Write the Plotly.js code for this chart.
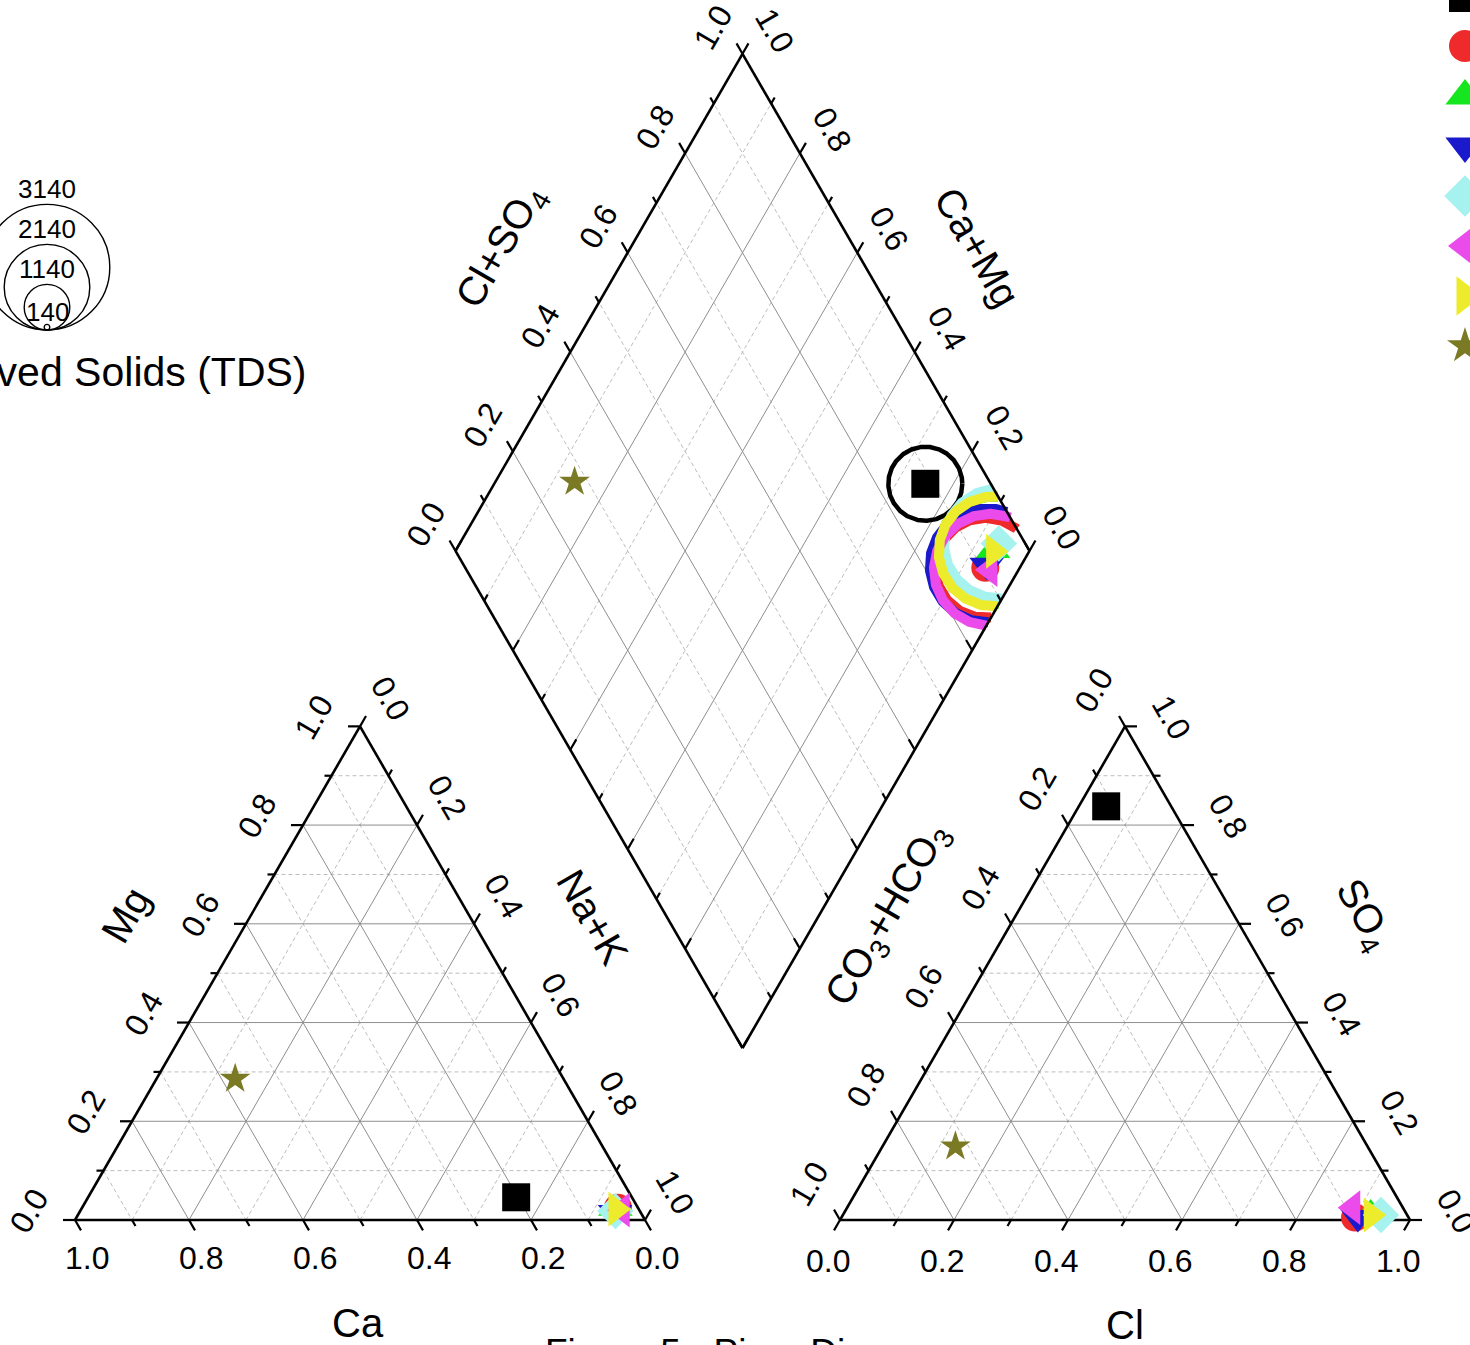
<!DOCTYPE html>
<html><head><meta charset="utf-8">
<script src="https://cdn.plot.ly/plotly-3.0.1.min.js"></script>
<style>html,body{margin:0;padding:0;background:#fff;overflow:hidden;}</style>
</head><body>
<div id="chart" style="width:1470px;height:1345px;"></div>
<script>
// ================= DATA =================
const sampleNames = ['Sample 1','Sample 2','Sample 3','Sample 4','Sample 5','Sample 6','Sample 7','Sample 8'];
// cations (fractions of meq)
const caVals   = [0.203, 0.035, 0.040, 0.045, 0.043, 0.030, 0.040, 0.576];
const mgVals   = [0.046, 0.025, 0.024, 0.015, 0.018, 0.020, 0.022, 0.286];
const nakVals  = [0.751, 0.940, 0.936, 0.940, 0.939, 0.950, 0.938, 0.138];
// anions
const clVals   = [0.048, 0.901, 0.925, 0.906, 0.944, 0.887, 0.927, 0.128];
const so4Vals  = [0.838, 0.005, 0.012, 0.005, 0.010, 0.025, 0.010, 0.149];
const hco3Vals = [0.114, 0.094, 0.063, 0.089, 0.046, 0.088, 0.063, 0.723];
// total dissolved solids (mg/L)
const tdsVals  = [1850, 2500, 2700, 2850, 2750, 2800, 2750, 150];
// TDS scale legend
const tdsLegendVals = [3140, 2140, 1140, 140];
// axis ticks
const tickVals = [0, 0.2, 0.4, 0.6, 0.8, 1.0];
const tickText = ['0.0', '0.2', '0.4', '0.6', '0.8', '1.0'];
const fineVals = [0, 0.1, 0.2, 0.3, 0.4, 0.5, 0.6, 0.7, 0.8, 0.9, 1.0];

// ================= STYLE / GEOMETRY =================
const colors  = ['#000000', '#EF2A2B', '#16E61F', '#1A1ACC', '#A6F2EE', '#EA4BEA', '#ECEC2C', '#7A7A24'];
const symbols = ['square', 'circle', 'triangle-up', 'triangle-down', 'diamond', 'triangle-left', 'triangle-right', 'star'];
const sizes   = [28, 28, 30, 30, 28, 30, 30, 23];
const FONT = 'Arial, "Liberation Sans", Helvetica, sans-serif';

const S = 570, H = S * Math.sqrt(3) / 2;          // triangles
const SD = 574, HD = SD * Math.sqrt(3) / 2;       // diamond
const L0 = [75, 1220];      // cation triangle: Ca corner
const R0 = [840, 1220];     // anion triangle: CO3+HCO3 corner
const DB = [742.5, 1048];   // diamond bottom vertex
const TDS_PX = 0.04;        // circle diameter in px per mg/L

function cationXY(ca, mg, nak) { return [L0[0] + S * nak + S / 2 * mg, L0[1] - H * mg]; }
function anionXY(cl, so4, hco3) { return [R0[0] + S * cl + S / 2 * so4, R0[1] - H * so4]; }
function diamondXY(a, b) { return [DB[0] + SD / 2 * (b - a), DB[1] - HD * (a + b)]; }
function diamondAB(x, y) { const d = (x - DB[0]) / (SD / 2), s = (DB[1] - y) / HD; return [(s - d) / 2, (s + d) / 2]; }

const traces = [];
function segTrace(segs, color, width, dash) {
  const x = [], y = [];
  segs.forEach(s => { x.push(s[0][0], s[1][0], null); y.push(s[0][1], s[1][1], null); });
  return {type: 'scatter', mode: 'lines', x, y, line: {color, width, dash: dash || 'solid'},
          hoverinfo: 'skip', showlegend: false};
}
const isMajor = v => Math.round(v * 10) % 2 === 0;
const inner = fineVals.filter(v => v > 0 && v < 1);

// ---- grid lines ----
const majorSegs = [], minorSegs = [];
inner.forEach(v => {
  const list = isMajor(v) ? majorSegs : minorSegs;
  list.push([cationXY(1 - v, v, 0), cationXY(0, v, 1 - v)]);
  list.push([cationXY(v, 1 - v, 0), cationXY(v, 0, 1 - v)]);
  list.push([cationXY(1 - v, 0, v), cationXY(0, 1 - v, v)]);
  list.push([anionXY(0, v, 1 - v), anionXY(1 - v, v, 0)]);
  list.push([anionXY(v, 0, 1 - v), anionXY(v, 1 - v, 0)]);
  list.push([anionXY(0, 1 - v, v), anionXY(1 - v, 0, v)]);
  list.push([diamondXY(v, 0), diamondXY(v, 1)]);
  list.push([diamondXY(0, v), diamondXY(1, v)]);
});
traces.push(segTrace(minorSegs, '#bdbdbd', 1, '4px,3px'));
traces.push(segTrace(majorSegs, '#8e8e8e', 1));

// ---- frames ----
const frameSegs = [
  [cationXY(1, 0, 0), cationXY(0, 0, 1)], [cationXY(0, 0, 1), cationXY(0, 1, 0)], [cationXY(0, 1, 0), cationXY(1, 0, 0)],
  [anionXY(0, 0, 1), anionXY(1, 0, 0)], [anionXY(1, 0, 0), anionXY(0, 1, 0)], [anionXY(0, 1, 0), anionXY(0, 0, 1)],
  [diamondXY(0, 0), diamondXY(1, 0)], [diamondXY(1, 0), diamondXY(1, 1)], [diamondXY(1, 1), diamondXY(0, 1)], [diamondXY(0, 1), diamondXY(0, 0)]
];

// ---- ticks ----
const c60 = 0.5, s60 = Math.sqrt(3) / 2;
const tickSegs = [];
function addTick(p, dir, v) {
  const len = isMajor(v) ? 12 : 7;
  tickSegs.push([p, [p[0] + dir[0] * len, p[1] + dir[1] * len]]);
}
fineVals.forEach(v => {
  addTick(cationXY(v, 0, 1 - v), [c60, s60], v);     // Ca (bottom)
  addTick(cationXY(1 - v, v, 0), [-1, 0], v);         // Mg (left)
  addTick(cationXY(0, 1 - v, v), [c60, -s60], v);    // Na+K (right)
  addTick(anionXY(v, 0, 1 - v), [-c60, s60], v);      // Cl (bottom)
  addTick(anionXY(0, 1 - v, v), [-c60, -s60], v);    // CO3+HCO3 (left)
  addTick(anionXY(1 - v, v, 0), [1, 0], v);           // SO4 (right)
  addTick(diamondXY(1, v), [-c60, -s60], v);          // Cl+SO4 upper-left
  addTick(diamondXY(v, 1), [c60, -s60], v);           // Ca+Mg upper-right
  addTick(diamondXY(v, 0), [c60, -s60], v);           // lower-left (inward)
  addTick(diamondXY(0, v), [-c60, -s60], v);          // lower-right (inward)
});

// ---- TDS rings in the diamond (clipped to the diamond) ----
function ringXY(cx, cy, r) {
  const N = 1440, pts = [];
  for (let k = 0; k < N; k++) {
    const t = k / N * 2 * Math.PI;
    const px = cx + r * Math.cos(t), py = cy + r * Math.sin(t);
    const ab = diamondAB(px, py);
    pts.push({px, py, inside: ab[0] >= 0 && ab[0] <= 1 && ab[1] >= 0 && ab[1] <= 1});
  }
  const k0 = pts.findIndex(p => !p.inside);
  const xs = [], ys = [];
  if (k0 < 0) { pts.forEach(p => { xs.push(p.px); ys.push(p.py); }); xs.push(pts[0].px); ys.push(pts[0].py); return [xs, ys]; }
  for (let j = 0; j <= N; j++) {
    const p = pts[(k0 + j) % N];
    if (p.inside) { xs.push(p.px); ys.push(p.py); }
    else if (xs.length && xs[xs.length - 1] !== null) { xs.push(null); ys.push(null); }
  }
  return [xs, ys];
}
const ringWidths = [4.5, 10, 10, 10, 10, 10, 10, 2];
sampleNames.forEach((n, i) => {
  const c = diamondXY(caVals[i] + mgVals[i], clVals[i] + so4Vals[i]);
  const [xs, ys] = ringXY(c[0], c[1], tdsVals[i] * TDS_PX / 2);
  traces.push({type: 'scatter', mode: 'lines', x: xs, y: ys, line: {color: colors[i], width: ringWidths[i]},
               hoverinfo: 'skip', showlegend: false});
});

traces.push(segTrace(frameSegs, '#000', 2.6));
traces.push(segTrace(tickSegs, '#000', 2.2));

// ---- sample markers ----
sampleNames.forEach((n, i) => {
  const p1 = cationXY(caVals[i], mgVals[i], nakVals[i]);
  const p2 = anionXY(clVals[i], so4Vals[i], hco3Vals[i]);
  const p3 = diamondXY(caVals[i] + mgVals[i], clVals[i] + so4Vals[i]);
  traces.push({type: 'scatter', mode: 'markers', name: n, x: [p1[0], p2[0], p3[0]], y: [p1[1], p2[1], p3[1]],
               marker: {symbol: symbols[i], size: sizes[i], color: colors[i], opacity: 1, line: {width: 0}},
               showlegend: false, hoverinfo: 'skip'});
});

// ---- legend symbols (column at the right edge; the labels lie beyond the page) ----
const legX = 1465, legY0 = -4, legDY = 50;
traces.push({type: 'scatter', mode: 'markers', name: 'legend', x: sampleNames.map(() => legX),
             y: sampleNames.map((n, i) => legY0 + i * legDY),
             marker: {symbol: symbols, size: sizes.map((s, i) => i === 7 ? 27 : s + 4), color: colors, opacity: 1, line: {width: 0}},
             showlegend: false, hoverinfo: 'skip'});

// ---- TDS scale legend ----
const tdsCx = 47, tdsBase = 330;
traces.push({type: 'scatter', mode: 'markers', x: tdsLegendVals.map(() => tdsCx),
             y: tdsLegendVals.map(v => tdsBase - v * TDS_PX / 2),
             marker: {symbol: 'circle', size: tdsLegendVals.map(v => v * TDS_PX), color: 'rgba(0,0,0,0)', opacity: 1,
                      line: {color: '#000', width: 1.4}},
             showlegend: false, hoverinfo: 'skip'});

// ================= ANNOTATIONS =================
const annotations = [];
function ann(p, dx, dy, text, size, angle, xanchor) {
  annotations.push({x: p[0] + dx, y: p[1] + dy, xref: 'x', yref: 'y', text, showarrow: false,
                    textangle: angle || 0, font: {family: FONT, size, color: '#000'},
                    xanchor: xanchor || 'center', yanchor: 'middle'});
}
const TF = 32, AF = 40;
tickVals.forEach((v, k) => {
  const t = tickText[k];
  ann(cationXY(v, 0, 1 - v), 12, 38, t, TF, 0);
  ann(cationXY(1 - v, v, 0), -46, -9, t, TF, -60);
  ann(cationXY(0, 1 - v, v), 30, -28, t, TF, 60);
  ann(anionXY(v, 0, 1 - v), -12, 41, t, TF, 0);
  ann(anionXY(0, 1 - v, v), -31, -36, t, TF, -60);
  ann(anionXY(1 - v, v, 0), 46, -9, t, TF, 60);
  ann(diamondXY(1, v), -30, -26, t, TF, -60);
  ann(diamondXY(v, 1), 32, -24, t, TF, 60);
});
// axis titles
ann(cationXY(0.5, 0, 0.5), -2, 103, 'Ca', AF, 0);
ann(cationXY(0.5, 0.5, 0), -92, -58, 'Mg', AF, -60);
ann(cationXY(0, 0.5, 0.5), 90, -56, 'Na+K', AF, 60);
ann(anionXY(0.5, 0, 0.5), 0, 105, 'Cl', AF, 0);
ann(anionXY(0, 0.5, 0.5), -94, -58, 'CO<sub>3</sub>+HCO<sub>3</sub>', AF, -60);
ann(anionXY(0.5, 0.5, 0), 95, -58, 'SO<sub>4</sub>', AF, 60);
ann(diamondXY(1, 0.5), -97, -55, 'Cl+SO<sub>4</sub>', AF, -60);
ann(diamondXY(0.5, 1), 91, -55, 'Ca+Mg', AF, 60);
// TDS legend labels
tdsLegendVals.forEach(v => ann([tdsCx, tdsBase - v * TDS_PX], 0, v < 500 ? -12 : -15, String(v), 26, 0));
ann([309, 372], 0, 0, 'Total Dissolved Solids (TDS)', 41, 0, 'right');
// figure caption (partly below the page edge, as in the original)
annotations.push({x: 747 / 1470, y: (1345 - 1352) / 1345, xref: 'paper', yref: 'paper', text: 'Figure 5 - Piper Diagram',
                  showarrow: false, font: {family: FONT, size: 37, color: '#000'}, xanchor: 'center', yanchor: 'middle'});

const layout = {
  width: 1470, height: 1345, margin: {l: 0, r: 0, t: 0, b: 0, pad: 0, autoexpand: false},
  paper_bgcolor: '#fff', plot_bgcolor: '#fff', showlegend: false, hovermode: false,
  xaxis: {range: [0, 1470], visible: false, fixedrange: true},
  yaxis: {range: [1345, 0], visible: false, fixedrange: true},
  annotations
};
Plotly.newPlot('chart', traces, layout, {staticPlot: true, displayModeBar: false});
</script>
</body></html>
